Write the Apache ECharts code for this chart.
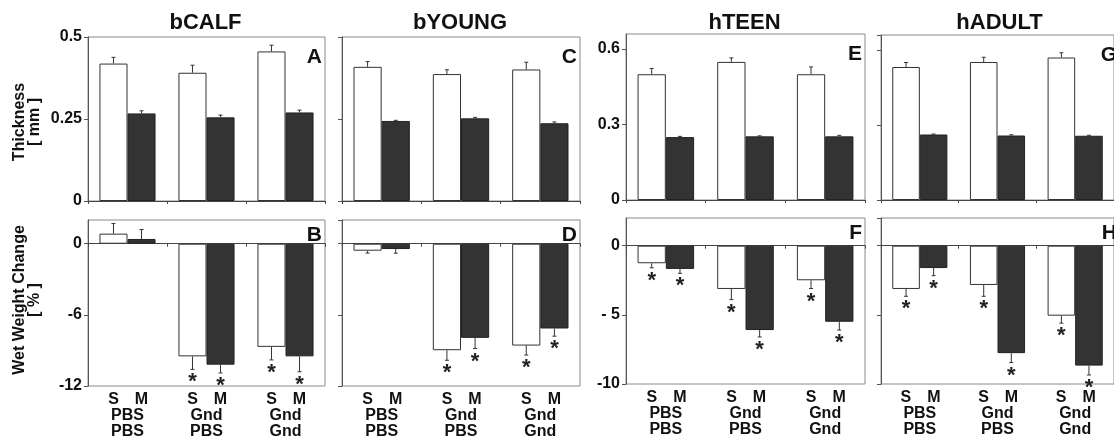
<!DOCTYPE html>
<html>
<head>
<meta charset="utf-8">
<script src="https://cdn.jsdelivr.net/npm/echarts@6/dist/echarts.min.js"></script>
<style>html,body{margin:0;padding:0;background:#fff}#c{width:1114px;height:442px}</style>
</head>
<body>
<div id="c"></div>
<script>
// ---- data ----
const groupTop = ['PBS', 'Gnd', 'Gnd'];
const groupBottom = ['PBS', 'PBS', 'Gnd'];
const barNames = ['S', 'M'];
const panelTitles = ['bCALF', 'bYOUNG', 'hTEEN', 'hADULT'];
const topLetters = ['A', 'C', 'E', 'G'];
const bottomLetters = ['B', 'D', 'F', 'H'];

// Thickness [mm]
const calfThickS = [0.419, 0.391, 0.456];
const calfThickSErr = [0.019, 0.023, 0.019];
const calfThickM = [0.267, 0.255, 0.270];
const calfThickMErr = [0.008, 0.007, 0.007];
const youngThickS = [0.409, 0.387, 0.401];
const youngThickSErr = [0.016, 0.013, 0.022];
const youngThickM = [0.244, 0.252, 0.237];
const youngThickMErr = [0.002, 0.003, 0.004];
const teenThickS = [0.500, 0.549, 0.500];
const teenThickSErr = [0.023, 0.016, 0.029];
const teenThickM = [0.250, 0.253, 0.253];
const teenThickMErr = [0.003, 0.002, 0.004];
const adultThickS = [0.532, 0.552, 0.570];
const adultThickSErr = [0.018, 0.019, 0.019];
const adultThickM = [0.262, 0.258, 0.257];
const adultThickMErr = [0.002, 0.003, 0.002];

// Wet weight change [%]
const calfWetS = [0.85, -9.5, -8.7];
const calfWetSErr = [0.85, 1.1, 1.1];
const calfWetSStar = [0, 1, 1];
const calfWetM = [0.4, -10.2, -9.5];
const calfWetMErr = [0.8, 0.7, 1.3];
const calfWetMStar = [0, 1, 1];
const youngWetS = [-0.59, -8.98, -8.59];
const youngWetSErr = [0.2, 0.85, 0.8];
const youngWetSStar = [0, 1, 1];
const youngWetM = [-0.45, -7.94, -7.15];
const youngWetMErr = [0.35, 0.9, 0.65];
const youngWetMStar = [0, 1, 1];
const teenWetS = [-1.27, -3.13, -2.5];
const teenWetSErr = [0.33, 0.77, 0.6];
const teenWetSStar = [1, 1, 1];
const teenWetM = [-1.68, -6.1, -5.5];
const teenWetMErr = [0.32, 0.5, 0.6];
const teenWetMStar = [1, 1, 1];
const adultWetS = [-3.13, -2.84, -5.06];
const adultWetSErr = [0.53, 0.82, 0.54];
const adultWetSStar = [1, 1, 1];
const adultWetM = [-1.62, -7.77, -8.67];
const adultWetMErr = [0.55, 0.68, 0.68];
const adultWetMStar = [1, 1, 1];

// axis scales
const thickAxisB = {min: 0, max: 0.5, interval: 0.25};
const thickAxisH = {min: 0, max: 0.66, interval: 0.3};
const wetAxisB = {min: -12, max: 2, interval: 6};
const wetAxisH = {min: -10, max: 2, interval: 5};

// ---- layout/style ----
const FONT = '"Liberation Sans", Arial, sans-serif';
const DARK = '#333333';
const CAT_GAP = 0.29;

const panels = [
  // top row
  {grid: {left: 88, top: 37, width: 237, height: 164}, axis: thickAxisB, showMax: true, labels: true, bottomRow: false,
   S: calfThickS, SE: calfThickSErr, M: calfThickM, ME: calfThickMErr, letter: topLetters[0]},
  {grid: {left: 342, top: 37, width: 238, height: 164}, axis: thickAxisB, showMax: true, labels: false, bottomRow: false,
   S: youngThickS, SE: youngThickSErr, M: youngThickM, ME: youngThickMErr, letter: topLetters[1]},
  {grid: {left: 626, top: 34, width: 239, height: 166}, axis: thickAxisH, showMax: false, labels: true, bottomRow: false,
   S: teenThickS, SE: teenThickSErr, M: teenThickM, ME: teenThickMErr, letter: topLetters[2]},
  {grid: {left: 881, top: 35, width: 239, height: 165}, axis: thickAxisH, showMax: false, labels: false, bottomRow: false,
   S: adultThickS, SE: adultThickSErr, M: adultThickM, ME: adultThickMErr, letter: topLetters[3]},
  // bottom row
  {grid: {left: 88, top: 220, width: 237, height: 166}, axis: wetAxisB, showMax: false, labels: true, bottomRow: true,
   S: calfWetS, SE: calfWetSErr, SS: calfWetSStar, M: calfWetM, ME: calfWetMErr, MS: calfWetMStar, letter: bottomLetters[0]},
  {grid: {left: 342, top: 220, width: 238, height: 166}, axis: wetAxisB, showMax: false, labels: false, bottomRow: true,
   S: youngWetS, SE: youngWetSErr, SS: youngWetSStar, M: youngWetM, ME: youngWetMErr, MS: youngWetMStar, letter: bottomLetters[1]},
  {grid: {left: 626, top: 218, width: 239, height: 166}, axis: wetAxisH, showMax: false, labels: true, bottomRow: true,
   S: teenWetS, SE: teenWetSErr, SS: teenWetSStar, M: teenWetM, ME: teenWetMErr, MS: teenWetMStar, letter: bottomLetters[2]},
  {grid: {left: 881, top: 218, width: 239, height: 166}, axis: wetAxisH, showMax: false, labels: false, bottomRow: true,
   S: adultWetS, SE: adultWetSErr, SS: adultWetSStar, M: adultWetM, ME: adultWetMErr, MS: adultWetMStar, letter: bottomLetters[3]}
];

const grids = [], xAxes = [], yAxes = [], series = [], graphics = [];

function errRender(side) {
  return function (params, api) {
    const cat = api.value(0), v = api.value(1), e = api.value(2), star = api.value(3);
    const band = api.size([1, 0])[0];
    const barW = band * (1 - CAT_GAP) / 2;
    const x = api.coord([cat, 0])[0] + side * barW / 2;
    const y0 = api.coord([cat, v])[1];
    const end = v >= 0 ? v + e : v - e;
    const y1 = api.coord([cat, end])[1];
    const children = [
      {type: 'line', shape: {x1: x, y1: y0, x2: x, y2: y1}, style: {stroke: DARK, lineWidth: 1}},
      {type: 'line', shape: {x1: x - 2, y1: y1, x2: x + 2, y2: y1}, style: {stroke: DARK, lineWidth: 1}}
    ];
    if (star) {
      children.push({type: 'text', x: x, y: y1 + 2, style: {text: '*', font: 'bold 22px ' + FONT, fill: '#222', align: 'center', verticalAlign: 'top'}});
    }
    return {type: 'group', children: children};
  };
}

panels.forEach(function (p, i) {
  grids.push(Object.assign({show: true, borderColor: '#8a8a8a', borderWidth: 1, backgroundColor: '#fff'}, p.grid));
  const cats = groupTop.map(function (t, k) { return t + '|' + groupBottom[k]; });
  const yi = yAxes.length;
  yAxes.push({
    type: 'value', gridIndex: i, min: p.axis.min, max: p.axis.max, interval: p.axis.interval,
    splitLine: {show: false},
    axisLine: {show: true, lineStyle: {color: '#555', width: 1}},
    axisTick: {show: true, length: 4, lineStyle: {color: '#555'}},
    axisLabel: {show: p.labels, showMaxLabel: p.showMax, margin: 6, color: '#111',
      fontFamily: FONT, fontWeight: 'bold', fontSize: 16,
      formatter: function (v) { return v < 0 && p.axis === wetAxisH && v > -10 ? '- ' + Math.abs(v) : String(v); }}
  });
  const xi = xAxes.length;
  if (!p.bottomRow) {
    xAxes.push({
      type: 'category', gridIndex: i, data: cats, position: 'bottom',
      axisLine: {show: true, lineStyle: {color: '#444'}},
      axisTick: {show: true, length: 3, lineStyle: {color: '#444'}},
      axisLabel: {show: false}
    });
  } else {
    xAxes.push({
      type: 'category', gridIndex: i, data: cats, position: 'bottom',
      axisLine: {show: false, onZero: false},
      axisTick: {show: false},
      axisLabel: {
        show: true, margin: 5, interval: 0, color: '#111', lineHeight: 17,
        fontFamily: FONT, fontWeight: 'bold', fontSize: 16,
        formatter: function (v) {
          const parts = v.split('|');
          return '{s|' + barNames[0] + '}{m|' + barNames[1] + '}\n{g|' + parts[0] + '}\n{g|' + parts[1] + '}';
        },
        rich: {
          s: {width: 28, align: 'center', fontFamily: FONT, fontWeight: 'bold', fontSize: 16, color: '#111', lineHeight: 17},
          m: {width: 28, align: 'center', fontFamily: FONT, fontWeight: 'bold', fontSize: 16, color: '#111', lineHeight: 17},
          g: {fontFamily: FONT, fontWeight: 'bold', fontSize: 16, color: '#111', lineHeight: 16}
        }
      }
    });
    xAxes.push({
      type: 'category', gridIndex: i, data: cats, position: 'bottom',
      axisLine: {show: true, onZero: true, lineStyle: {color: '#444'}},
      axisTick: {show: true, length: 3, lineStyle: {color: '#444'}},
      axisLabel: {show: false}
    });
  }
  series.push({
    type: 'bar', name: barNames[0], xAxisIndex: xi, yAxisIndex: yi, data: p.S,
    barGap: '0%', barCategoryGap: (CAT_GAP * 100) + '%',
    itemStyle: {color: '#ffffff', borderColor: DARK, borderWidth: 1}, silent: true
  });
  series.push({
    type: 'bar', name: barNames[1], xAxisIndex: xi, yAxisIndex: yi, data: p.M,
    barGap: '0%', barCategoryGap: (CAT_GAP * 100) + '%',
    itemStyle: {color: DARK, borderColor: '#222', borderWidth: 1}, silent: true
  });
  series.push({
    type: 'custom', xAxisIndex: xi, yAxisIndex: yi, renderItem: errRender(-1), silent: true, z: 5,
    data: p.S.map(function (v, k) { return [k, v, p.SE[k], p.SS ? p.SS[k] : 0]; })
  });
  series.push({
    type: 'custom', xAxisIndex: xi, yAxisIndex: yi, renderItem: errRender(1), silent: true, z: 5,
    data: p.M.map(function (v, k) { return [k, v, p.ME[k], p.MS ? p.MS[k] : 0]; })
  });
  // panel letter
  graphics.push({
    type: 'text', x: p.grid.left + p.grid.width - 3, y: p.grid.top + (p.bottomRow ? 5 : 10), z: 100,
    style: {text: p.letter, font: 'bold 21px ' + FONT, fill: '#111', align: 'right', verticalAlign: 'top'}
  });
  if (!p.bottomRow) {
    graphics.push({
      type: 'text', x: p.grid.left + p.grid.width / 2 - 1, y: 23, z: 100,
      style: {text: panelTitles[i], font: 'bold 22px ' + FONT, fill: '#111', align: 'center', verticalAlign: 'middle'}
    });
  }
});

graphics.push({
  type: 'text', x: 27, y: 122, rotation: Math.PI / 2, z: 100,
  style: {text: 'Thickness\n[ mm ]', font: 'bold 16px ' + FONT, fill: '#111', align: 'center', verticalAlign: 'middle', lineHeight: 15}
});
graphics.push({
  type: 'text', x: 27, y: 300, rotation: Math.PI / 2, z: 100,
  style: {text: 'Wet Weight Change\n[ % ]', font: 'bold 16px ' + FONT, fill: '#111', align: 'center', verticalAlign: 'middle', lineHeight: 15}
});

const chart = echarts.init(document.getElementById('c'), null, {renderer: 'canvas'});
chart.setOption({
  animation: false,
  backgroundColor: '#fff',
  grid: grids,
  xAxis: xAxes,
  yAxis: yAxes,
  series: series,
  graphic: graphics
});
</script>
</body>
</html>
